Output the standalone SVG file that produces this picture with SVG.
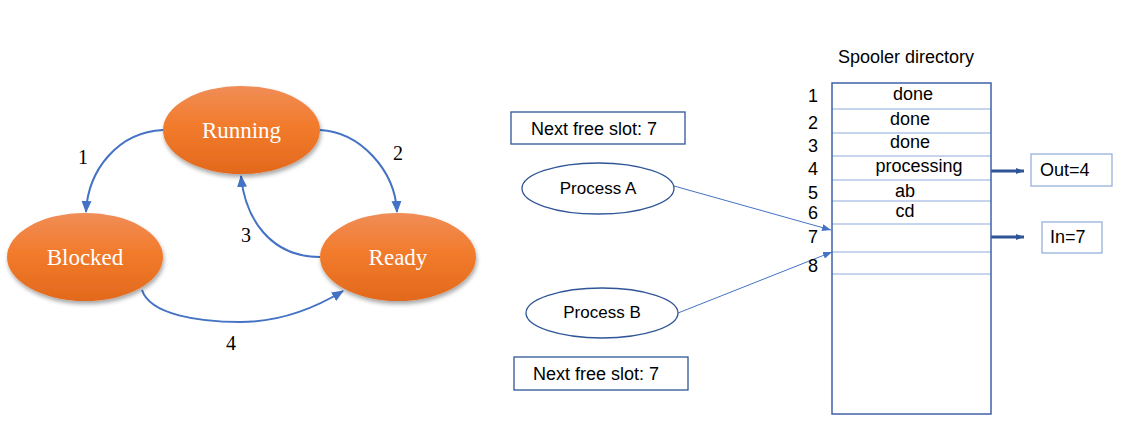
<svg xmlns="http://www.w3.org/2000/svg" width="1129" height="430" viewBox="0 0 1129 430">
<defs>
<linearGradient id="og" x1="0" y1="0" x2="0" y2="1">
<stop offset="0" stop-color="#f08d57"/>
<stop offset="0.45" stop-color="#f27b2c"/>
<stop offset="1" stop-color="#e2691c"/>
</linearGradient>
<filter id="sh" x="-20%" y="-20%" width="140%" height="150%">
<feDropShadow dx="1" dy="3" stdDeviation="2" flood-color="#000" flood-opacity="0.35"/>
</filter>
<marker id="ah" markerWidth="12" markerHeight="10" refX="11" refY="5" orient="auto" markerUnits="userSpaceOnUse">
<path d="M0,0 L12,5 L0,10 z" fill="#4472c4"/>
</marker>
<marker id="ahs" markerWidth="9" markerHeight="7" refX="9" refY="3.5" orient="auto" markerUnits="userSpaceOnUse">
<path d="M0,0 L9,3.5 L0,7 z" fill="#4472c4"/>
</marker>
<marker id="aht" markerWidth="8" markerHeight="6" refX="8" refY="3" orient="auto" markerUnits="userSpaceOnUse">
<path d="M0,0 L8,3 L0,6 z" fill="#2f5597"/>
</marker>
</defs>
<style>
.st{fill:url(#og);filter:url(#sh)}
.stt{font-family:"Liberation Serif","DejaVu Serif",serif;font-size:23px;fill:#fff;text-anchor:middle}
.num{font-family:"Liberation Serif","DejaVu Serif",serif;font-size:20px;fill:#000;text-anchor:middle}
.cv{fill:none;stroke:#4472c4;stroke-width:2}
.sa{font-family:"Liberation Sans",Arial,sans-serif;font-size:18px;fill:#000}
.ctr{text-anchor:middle}
.bx{fill:#fff;stroke:#2f5597;stroke-width:1.3}
.pe{fill:#fff;stroke:#2f5597;stroke-width:1.3}
.row{stroke:#8eaadb;stroke-width:1.2}
.thin{fill:none;stroke:#4472c4;stroke-width:1}
.thick{fill:none;stroke:#2f5597;stroke-width:3}
</style>

<g id="connectors">
<path class="cv" d="M163,130 C118,132 88,170 86,212" marker-end="url(#ah)"/>
<path class="cv" d="M320,130 C360,132 395,170 397,212" marker-end="url(#ah)"/>
<path class="cv" d="M320,257 C270,257 245,218 241,176" marker-end="url(#ah)"/>
<path class="cv" d="M142,290 C150,315 200,322 240,322 C280,322 315,308 343,291" marker-end="url(#ah)"/>
<path class="thin" d="M674,186 L831,230" marker-end="url(#ahs)"/>
<path class="thin" d="M678,313 L832,252" marker-end="url(#ahs)"/>
<path class="thick" d="M991,171 L1024,171" marker-end="url(#aht)"/>
<path class="thick" d="M991,237 L1024,237" marker-end="url(#aht)"/>
</g>

<g id="labels">
<text class="num" x="83" y="164">1</text>
<text class="num" x="398" y="160">2</text>
<text class="num" x="246" y="242">3</text>
<text class="num" x="231" y="350">4</text>
</g>

<g id="running">
<ellipse class="st" cx="241.5" cy="130" rx="78.5" ry="44"/>
<text class="stt" x="241.5" y="138">Running</text>
</g>
<g id="blocked">
<ellipse class="st" cx="85" cy="257" rx="78" ry="44"/>
<text class="stt" x="85" y="265">Blocked</text>
</g>
<g id="ready">
<ellipse class="st" cx="398" cy="257" rx="78" ry="44"/>
<text class="stt" x="398" y="265">Ready</text>
</g>

<g id="slotA">
<rect class="bx" x="511" y="112" width="174" height="32"/>
<text class="sa" x="531" y="135">Next free slot: 7</text>
</g>
<g id="slotB">
<rect class="bx" x="514" y="357" width="174" height="33"/>
<text class="sa" x="533" y="380">Next free slot: 7</text>
</g>
<g id="processA">
<ellipse class="pe" cx="598" cy="188.5" rx="76" ry="25.5"/>
<text class="sa ctr" x="598" y="194" style="font-size:17px">Process A</text>
</g>
<g id="processB">
<ellipse class="pe" cx="602" cy="313" rx="76" ry="25"/>
<text class="sa ctr" x="602" y="318" style="font-size:17px">Process B</text>
</g>

<g id="spooler">
<text class="sa ctr" x="906" y="63">Spooler directory</text>
<line class="row" x1="832" y1="109" x2="991" y2="109"/>
<line class="row" x1="832" y1="133" x2="991" y2="133"/>
<line class="row" x1="832" y1="156" x2="991" y2="156"/>
<line class="row" x1="832" y1="180" x2="991" y2="180"/>
<line class="row" x1="832" y1="201" x2="991" y2="201"/>
<line class="row" x1="832" y1="224" x2="991" y2="224"/>
<line class="row" x1="832" y1="252" x2="991" y2="252"/>
<line class="row" x1="832" y1="274" x2="991" y2="274"/>
<rect x="832" y="83" width="159" height="331" fill="none" stroke="#3f62a8" stroke-width="1.5"/>
<text class="sa ctr" x="913" y="100">done</text>
<text class="sa ctr" x="910" y="125">done</text>
<text class="sa ctr" x="910" y="148">done</text>
<text class="sa ctr" x="919" y="172">processing</text>
<text class="sa ctr" x="905" y="197">ab</text>
<text class="sa ctr" x="905" y="217">cd</text>
<text class="sa ctr" x="813" y="102">1</text>
<text class="sa ctr" x="813" y="129">2</text>
<text class="sa ctr" x="813" y="152">3</text>
<text class="sa ctr" x="813" y="175">4</text>
<text class="sa ctr" x="813" y="199">5</text>
<text class="sa ctr" x="813" y="219">6</text>
<text class="sa ctr" x="813" y="243">7</text>
<text class="sa ctr" x="813" y="272">8</text>
</g>

<g id="out">
<rect x="1031" y="154" width="81" height="32" fill="#fff" stroke="#8eaadb" stroke-width="1.2"/>
<text class="sa" x="1040" y="176">Out=4</text>
</g>
<g id="in">
<rect x="1042" y="222" width="60" height="31" fill="#fff" stroke="#8eaadb" stroke-width="1.2"/>
<text class="sa" x="1050" y="243">In=7</text>
</g>
</svg>
